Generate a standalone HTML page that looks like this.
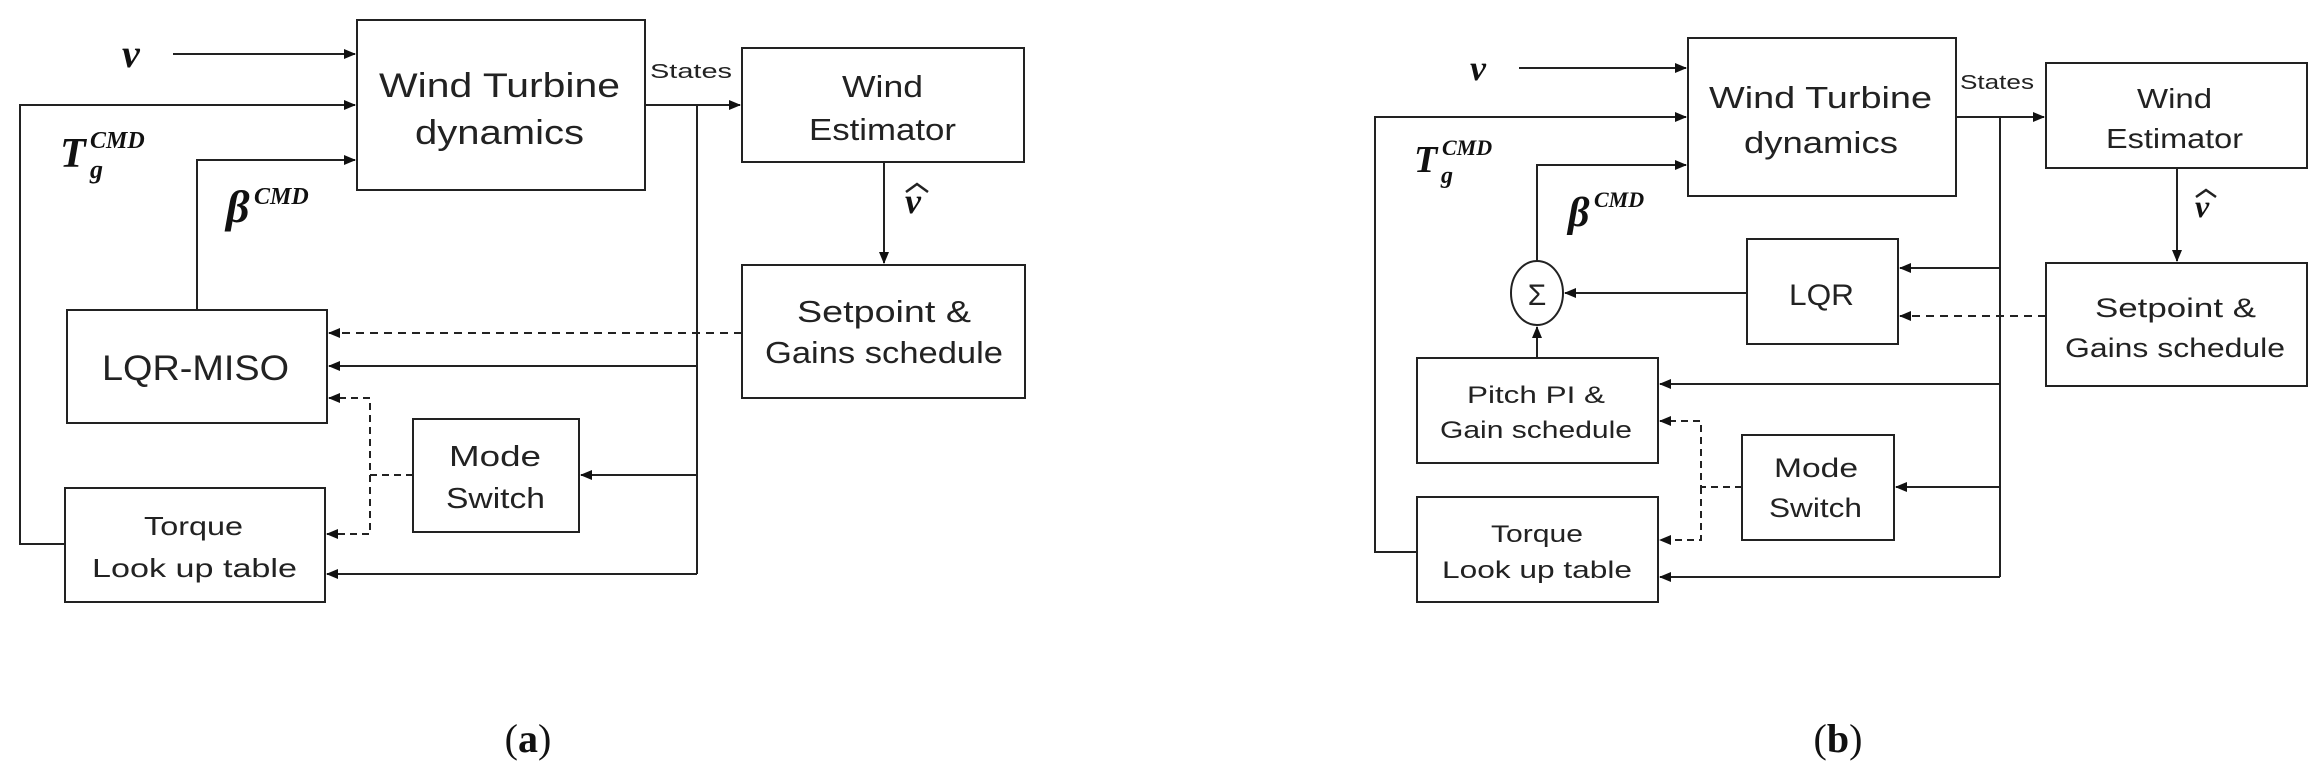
<!DOCTYPE html>
<html><head><meta charset="utf-8"><style>
html,body{margin:0;padding:0;background:#fff;}
svg{display:block;}
.t{font-family:"Liberation Sans",sans-serif;fill:#222;}
.m{font-family:"Liberation Serif",serif;font-style:italic;font-weight:bold;fill:#111;}
</style></head><body>
<svg width="2321" height="778" viewBox="0 0 2321 778" xmlns="http://www.w3.org/2000/svg">
<defs>
<marker id="a" markerUnits="userSpaceOnUse" markerWidth="12" markerHeight="10" refX="11" refY="5" orient="auto">
<path d="M0,0 L12,5 L0,10 z" fill="#111"/></marker>
</defs>
<g fill="none" stroke="#222" stroke-width="2">
<rect x="357" y="20" width="288" height="170"/>
<rect x="742" y="48" width="282" height="114"/>
<rect x="742" y="265" width="283" height="133"/>
<rect x="67" y="310" width="260" height="113"/>
<rect x="413" y="419" width="166" height="113"/>
<rect x="65" y="488" width="260" height="114"/>
<path d="M173,54 H355" marker-end="url(#a)"/>
<path d="M65,544 H20 V105 H355" marker-end="url(#a)"/>
<path d="M197,310 V160 H355" marker-end="url(#a)"/>
<path d="M645,105 H740" marker-end="url(#a)"/>
<path d="M697,105 V574"/>
<path d="M884,162 V263" marker-end="url(#a)"/>
<path d="M742,333 H329" stroke-dasharray="8,6" marker-end="url(#a)"/>
<path d="M697,366 H329" marker-end="url(#a)"/>
<path d="M413,475 H370 V398 H329" stroke-dasharray="7,5" marker-end="url(#a)"/>
<path d="M370,475 V534 H327" stroke-dasharray="7,5" marker-end="url(#a)"/>
<path d="M697,475 H581" marker-end="url(#a)"/>
<path d="M697,574 H327" marker-end="url(#a)"/>
<rect x="1688" y="38" width="268" height="158"/>
<rect x="2046" y="63" width="261" height="105"/>
<rect x="2046" y="263" width="261" height="123"/>
<rect x="1747" y="239" width="151" height="105"/>
<rect x="1417" y="358" width="241" height="105"/>
<rect x="1742" y="435" width="152" height="105"/>
<rect x="1417" y="497" width="241" height="105"/>
<ellipse cx="1537" cy="293" rx="26" ry="32"/>
<path d="M1519,68 H1686" marker-end="url(#a)"/>
<path d="M1417,552 H1375 V117 H1686" marker-end="url(#a)"/>
<path d="M1537,261 V165 H1686" marker-end="url(#a)"/>
<path d="M1956,117 H2044" marker-end="url(#a)"/>
<path d="M2000,117 V577"/>
<path d="M2177,168 V261" marker-end="url(#a)"/>
<path d="M2000,268 H1900" marker-end="url(#a)"/>
<path d="M2046,316 H1900" stroke-dasharray="8,6" marker-end="url(#a)"/>
<path d="M1747,293 H1565" marker-end="url(#a)"/>
<path d="M1537,358 V327" marker-end="url(#a)"/>
<path d="M2000,384 H1660" marker-end="url(#a)"/>
<path d="M1742,487 H1701 V421 H1660" stroke-dasharray="7,5" marker-end="url(#a)"/>
<path d="M1701,487 V540 H1660" stroke-dasharray="7,5" marker-end="url(#a)"/>
<path d="M2000,487 H1896" marker-end="url(#a)"/>
<path d="M2000,577 H1660" marker-end="url(#a)"/>
<path d="M906,192 L917,184 L928,192" stroke-width="2.5"/>
<path d="M2196,197 L2206,190 L2216,197" stroke-width="2.5"/>
</g>
<text class="t" x="379" y="97" font-size="34" textLength="241" lengthAdjust="spacingAndGlyphs">Wind Turbine</text>
<text class="t" x="415" y="144" font-size="34" textLength="169" lengthAdjust="spacingAndGlyphs">dynamics</text>
<text class="t" x="842" y="97" font-size="31" textLength="81" lengthAdjust="spacingAndGlyphs">Wind</text>
<text class="t" x="809" y="140" font-size="31" textLength="147" lengthAdjust="spacingAndGlyphs">Estimator</text>
<text class="t" x="797" y="322" font-size="31" textLength="174" lengthAdjust="spacingAndGlyphs">Setpoint &amp;</text>
<text class="t" x="765" y="363" font-size="31" textLength="238" lengthAdjust="spacingAndGlyphs">Gains schedule</text>
<text class="t" x="102" y="380" font-size="35" textLength="187" lengthAdjust="spacingAndGlyphs">LQR-MISO</text>
<text class="t" x="449" y="466" font-size="29" textLength="92" lengthAdjust="spacingAndGlyphs">Mode</text>
<text class="t" x="446" y="508" font-size="29" textLength="99" lengthAdjust="spacingAndGlyphs">Switch</text>
<text class="t" x="144" y="535" font-size="26" textLength="99" lengthAdjust="spacingAndGlyphs">Torque</text>
<text class="t" x="92" y="577" font-size="26" textLength="205" lengthAdjust="spacingAndGlyphs">Look up table</text>
<text class="t" x="650" y="78" font-size="20" textLength="82" lengthAdjust="spacingAndGlyphs">States</text>
<text class="m" x="122" y="67" font-size="40">v</text>
<text class="m" x="60" y="167" font-size="42">T</text>
<text class="m" x="90" y="148" font-size="24">CMD</text>
<text class="m" x="90" y="178" font-size="26">g</text>
<text class="m" x="226" y="222" font-size="46">β</text>
<text class="m" x="254" y="204" font-size="24">CMD</text>
<text class="m" x="905" y="213" font-size="36">v</text>
<text x="528" y="752" font-family="Liberation Serif,serif" font-size="40" text-anchor="middle" fill="#111">(<tspan font-weight="bold">a</tspan>)</text>
<text class="t" x="1709" y="108" font-size="31" textLength="223" lengthAdjust="spacingAndGlyphs">Wind Turbine</text>
<text class="t" x="1744" y="153" font-size="31" textLength="154" lengthAdjust="spacingAndGlyphs">dynamics</text>
<text class="t" x="2137" y="108" font-size="28" textLength="75" lengthAdjust="spacingAndGlyphs">Wind</text>
<text class="t" x="2106" y="148" font-size="28" textLength="137" lengthAdjust="spacingAndGlyphs">Estimator</text>
<text class="t" x="2095" y="317" font-size="27" textLength="161" lengthAdjust="spacingAndGlyphs">Setpoint &amp;</text>
<text class="t" x="2065" y="357" font-size="27" textLength="220" lengthAdjust="spacingAndGlyphs">Gains schedule</text>
<text class="t" x="1789" y="305" font-size="30" textLength="65" lengthAdjust="spacingAndGlyphs">LQR</text>
<text class="t" x="1467" y="403" font-size="24" textLength="138" lengthAdjust="spacingAndGlyphs">Pitch PI &amp;</text>
<text class="t" x="1440" y="438" font-size="24" textLength="192" lengthAdjust="spacingAndGlyphs">Gain schedule</text>
<text class="t" x="1774" y="477" font-size="27" textLength="84" lengthAdjust="spacingAndGlyphs">Mode</text>
<text class="t" x="1769" y="517" font-size="27" textLength="93" lengthAdjust="spacingAndGlyphs">Switch</text>
<text class="t" x="1491" y="542" font-size="24" textLength="92" lengthAdjust="spacingAndGlyphs">Torque</text>
<text class="t" x="1442" y="578" font-size="24" textLength="190" lengthAdjust="spacingAndGlyphs">Look up table</text>
<text class="t" x="1960" y="89" font-size="20" textLength="74" lengthAdjust="spacingAndGlyphs">States</text>
<text class="t" x="1537" y="305" font-size="30" text-anchor="middle">Σ</text>
<text class="m" x="1470" y="80" font-size="36">v</text>
<text class="m" x="1414" y="172" font-size="38">T</text>
<text class="m" x="1442" y="155" font-size="22">CMD</text>
<text class="m" x="1441" y="183" font-size="24">g</text>
<text class="m" x="1568" y="226" font-size="42">β</text>
<text class="m" x="1594" y="207" font-size="22">CMD</text>
<text class="m" x="2195" y="217" font-size="32">v</text>
<text x="1838" y="752" font-family="Liberation Serif,serif" font-size="40" text-anchor="middle" fill="#111">(<tspan font-weight="bold">b</tspan>)</text>
</svg>
</body></html>
